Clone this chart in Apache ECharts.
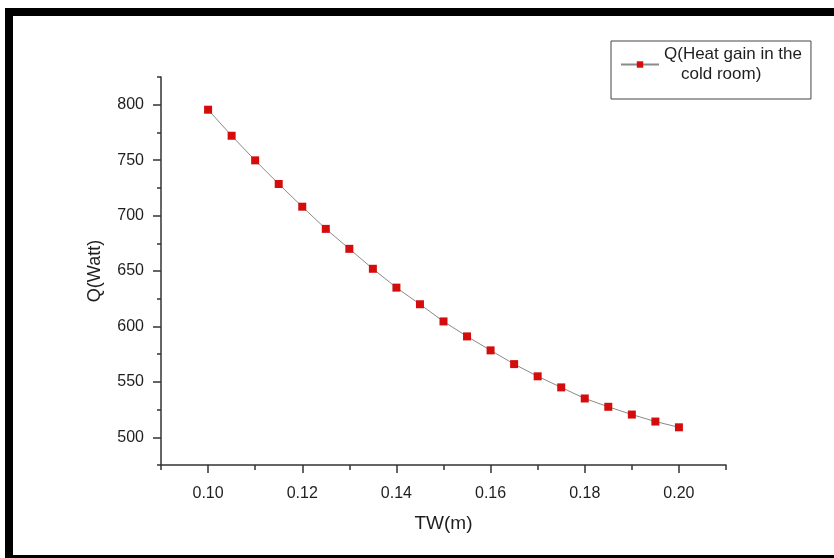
<!DOCTYPE html>
<html><head><meta charset="utf-8">
<script src="https://cdn.jsdelivr.net/npm/echarts@6/dist/echarts.min.js"></script>
<style>html,body{margin:0;padding:0;background:#fff}#c{width:834px;height:558px}</style>
</head><body><div id="c"></div>
<script>
const tw = [0.100,0.105,0.110,0.115,0.120,0.125,0.130,0.135,0.140,0.145,0.150,0.155,0.160,0.165,0.170,0.175,0.180,0.185,0.190,0.195,0.200];
const q  = [795.5,772,749.8,728.5,708,688,670,652,635,620,604.5,591,578.4,566,555,545,535,527.5,520.5,514.2,509];
const xMajor = [0.10,0.12,0.14,0.16,0.18,0.20];
const xMinor = [0.09,0.11,0.13,0.15,0.17,0.19,0.21];
const yMajor = [500,550,600,650,700,750,800];
const yMinor = [475,525,575,625,675,725,775,825];
const seriesName = 'Q(Heat gain in the\ncold room)';

const font = 'Liberation Sans, Arial, sans-serif';
const axisCol = '#333';
const txtCol = '#1e1e1e';
const chart = echarts.init(document.getElementById('c'), null, {renderer:'canvas'});
const baseX = {type:'value', min:0.09, max:0.21, position:'bottom'};
const baseY = {type:'value', min:475, max:825, position:'left'};
chart.setOption({
  animation:false,
  backgroundColor:'#fff',
  grid:{left:161, top:77, width:565, height:388, containLabel:false},
  legend:{
    left:611, top:41, orient:'vertical',
    borderColor:'#444', borderWidth:1, padding:[5,9,16,9],
    itemWidth:38, itemHeight:8, itemGap:0,
    data:[seriesName],
    formatter: function(n){ const p = n.split('\n'); return '{a|'+p[0]+'}\n{b|'+p[1]+'}'; },
    textStyle:{fontFamily:font, fontSize:17, color:txtCol,
      rich:{a:{fontFamily:font,fontSize:17,color:txtCol,lineHeight:20},
            b:{fontFamily:font,fontSize:17,color:txtCol,lineHeight:20,padding:[0,0,0,17]}}}
  },
  xAxis:[
    Object.assign({}, baseX, {
      name:'TW(m)', nameLocation:'middle', nameGap:49,
      nameTextStyle:{fontFamily:font, fontSize:19, color:txtCol},
      axisLine:{show:true, lineStyle:{color:axisCol, width:1.5}},
      axisTick:{show:true, inside:false, length:8, customValues:xMajor, lineStyle:{color:axisCol, width:1.5}},
      axisLabel:{customValues:xMajor, fontFamily:font, fontSize:16, color:txtCol, margin:21,
        formatter:v=>v.toFixed(2)},
      splitLine:{show:false}
    }),
    Object.assign({}, baseX, {
      axisLine:{show:false},
      axisTick:{show:true, inside:false, length:5, customValues:xMinor, lineStyle:{color:axisCol, width:1.5}},
      axisLabel:{show:false}, splitLine:{show:false}
    })
  ],
  yAxis:[
    Object.assign({}, baseY, {
      name:'Q(Watt)', nameLocation:'middle', nameGap:57, nameRotate:90,
      nameTextStyle:{fontFamily:font, fontSize:18, color:txtCol},
      axisLine:{show:true, lineStyle:{color:axisCol, width:1.5}},
      axisTick:{show:true, inside:false, length:8, customValues:yMajor, lineStyle:{color:axisCol, width:1.5}},
      axisLabel:{customValues:yMajor, fontFamily:font, fontSize:16, color:txtCol, margin:17},
      splitLine:{show:false}
    }),
    Object.assign({}, baseY, {
      axisLine:{show:false},
      axisTick:{show:true, inside:false, length:4, customValues:yMinor, lineStyle:{color:axisCol, width:1.5}},
      axisLabel:{show:false}, splitLine:{show:false}
    })
  ],
  series:[{
    name:seriesName, type:'line', xAxisIndex:0, yAxisIndex:0,
    data: tw.map((x,i)=>[x,q[i]]),
    symbol:'rect', symbolSize:8, smooth:false,
    lineStyle:{color:'#8a8a8a', width:1},
    itemStyle:{color:'#d40c0c'}
  }],
  graphic:[
    {type:'rect', shape:{x:5, y:8, width:829, height:8}, style:{fill:'#000'}},
    {type:'rect', shape:{x:5, y:8, width:8, height:550}, style:{fill:'#000'}},
    {type:'rect', shape:{x:5, y:555, width:829, height:3}, style:{fill:'#000'}}
  ]
});
</script></body></html>
